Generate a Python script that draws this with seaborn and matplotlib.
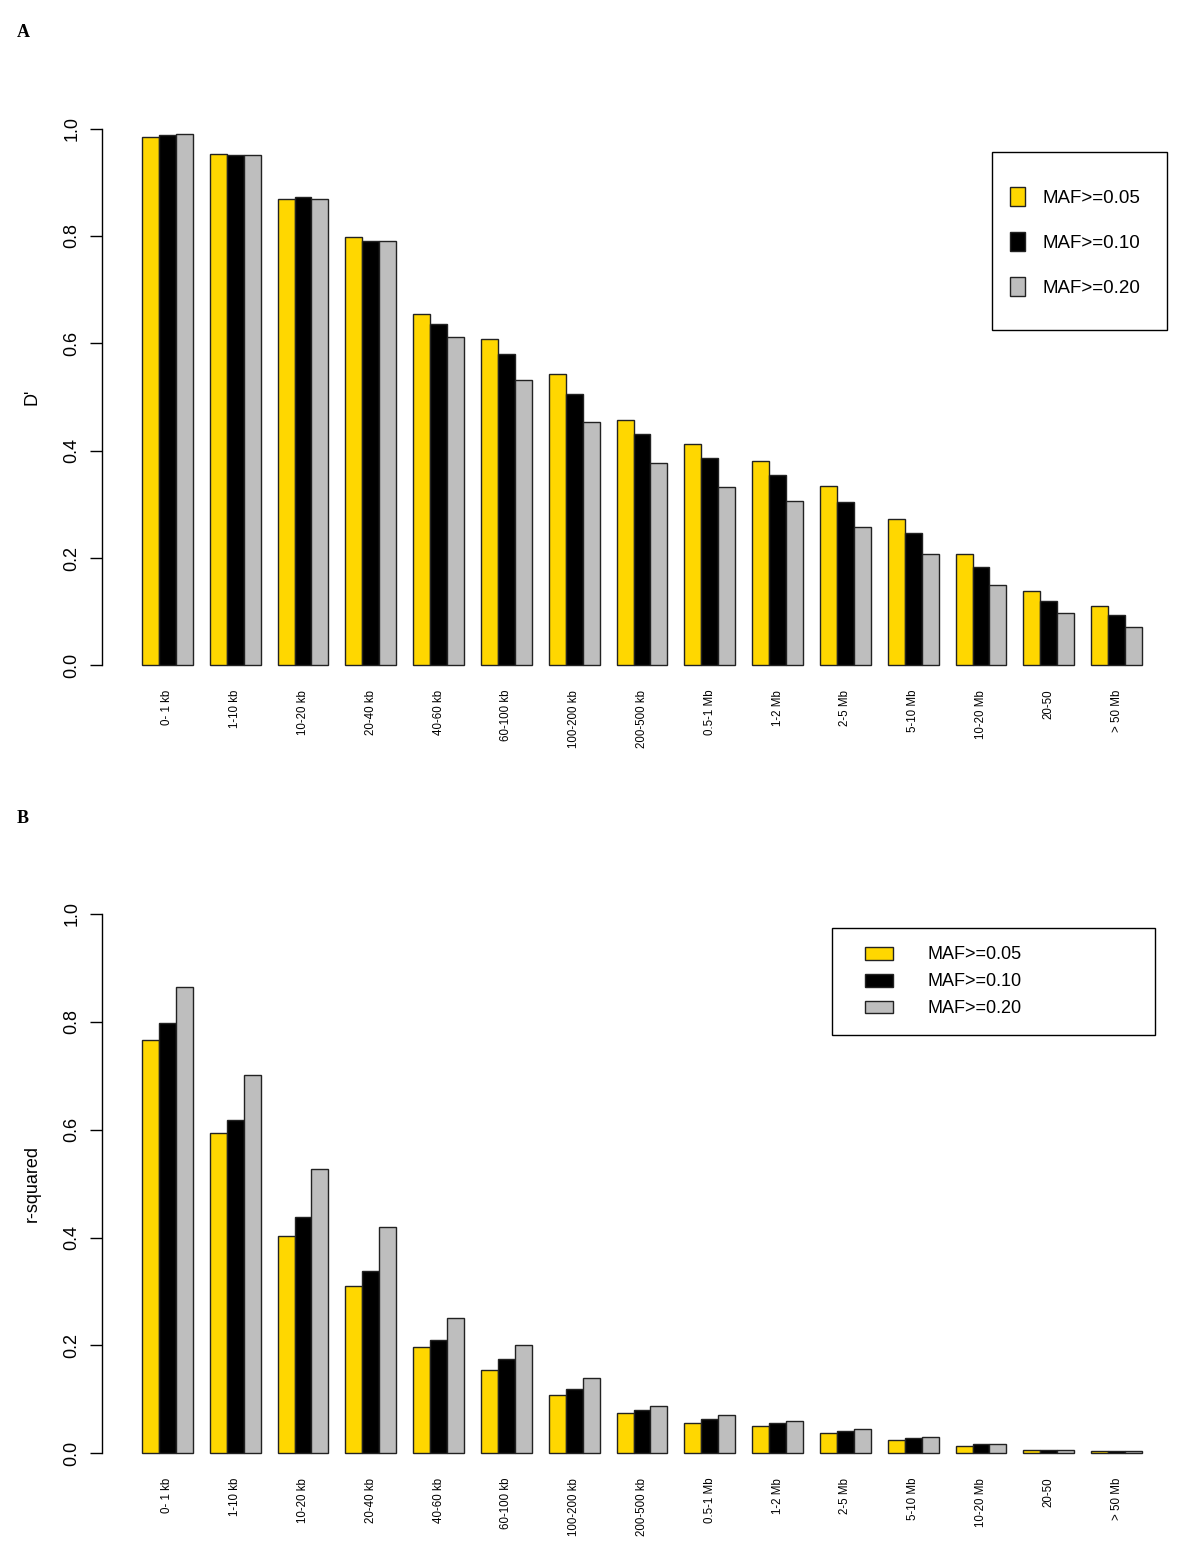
import pandas as pd
import seaborn as sns
import matplotlib.pyplot as plt
from matplotlib.patches import Rectangle

# distance bins (x axis)
categories = ['0- 1 kb', '1-10 kb', '10-20 kb', '20-40 kb', '40-60 kb', '60-100 kb',
              '100-200 kb', '200-500 kb', '0.5-1 Mb', '1-2 Mb', '2-5 Mb', '5-10 Mb',
              '10-20 Mb', '20-50', '> 50 Mb']
maf_labels = ['MAF>=0.05', 'MAF>=0.10', 'MAF>=0.20']

# panel A: D'
dprime_05 = [0.985, 0.952, 0.868, 0.798, 0.655, 0.608, 0.542, 0.458, 0.412, 0.381, 0.335, 0.273, 0.208, 0.139, 0.110]
dprime_10 = [0.988, 0.950, 0.873, 0.791, 0.636, 0.580, 0.505, 0.432, 0.386, 0.355, 0.305, 0.247, 0.183, 0.120, 0.093]
dprime_20 = [0.990, 0.950, 0.868, 0.791, 0.612, 0.531, 0.454, 0.377, 0.332, 0.307, 0.258, 0.208, 0.150, 0.097, 0.072]

# panel B: r-squared
rsq_05 = [0.766, 0.593, 0.403, 0.310, 0.197, 0.154, 0.108, 0.075, 0.057, 0.051, 0.038, 0.025, 0.014, 0.007, 0.005]
rsq_10 = [0.797, 0.618, 0.439, 0.338, 0.211, 0.174, 0.119, 0.080, 0.063, 0.056, 0.041, 0.028, 0.017, 0.007, 0.004]
rsq_20 = [0.865, 0.701, 0.527, 0.420, 0.250, 0.200, 0.140, 0.088, 0.071, 0.060, 0.045, 0.030, 0.017, 0.007, 0.005]

yticks = [0.0, 0.2, 0.4, 0.6, 0.8, 1.0]
colors = ['#FFD700', '#000000', '#BEBEBE']

sns.set_style('white')
plt.rcParams['font.family'] = ['Liberation Sans', 'DejaVu Sans']
plt.rcParams['text.color'] = 'black'
plt.rcParams['axes.labelcolor'] = 'black'
plt.rcParams['xtick.color'] = 'black'
plt.rcParams['ytick.color'] = 'black'


def long_frame(series):
    rows = []
    for lab, vals in zip(maf_labels, series):
        for cat, v in zip(categories, vals):
            rows.append({'dist': cat, 'value': v, 'maf': lab})
    return pd.DataFrame(rows)


def draw_panel(ax, df, ylabel):
    sns.barplot(data=df, x='dist', y='value', hue='maf', order=categories,
                hue_order=maf_labels, palette=dict(zip(maf_labels, colors)),
                width=0.75, gap=0, errorbar=None, edgecolor='#222222',
                linewidth=1, saturation=1, ax=ax)
    ax.set_xlim(-0.965, 14.965)
    ax.set_ylim(-0.04, 1.04)
    for s in ['top', 'right', 'bottom']:
        ax.spines[s].set_visible(False)
    ax.spines['left'].set_bounds(0, 1)
    ax.spines['left'].set_linewidth(1)
    ax.spines['left'].set_color('black')
    ax.set_yticks(yticks)
    ax.set_yticklabels(['%.1f' % t for t in yticks], rotation=90, va='center')
    ax.tick_params(axis='y', left=True, length=8.6, width=1, pad=7, labelsize=13)
    ax.tick_params(axis='x', length=0, pad=2, labelsize=8.3, labelrotation=90)
    ax.set_xlabel('')
    ax.set_ylabel(ylabel, fontsize=13)
    ax.yaxis.set_label_coords(-0.057, 0.5)
    handles, labels = ax.get_legend_handles_labels()
    ax.get_legend().remove()
    return handles, labels


fig = plt.figure(figsize=(12, 15.6), dpi=100)
W, H = 1200.0, 1560.0

axA = fig.add_axes([0.085, 0.5597, 0.9, 0.3716])
hA, lA = draw_panel(axA, long_frame([dprime_05, dprime_10, dprime_20]), "D'")

axB = fig.add_axes([0.085, 0.05455, 0.9, 0.3734])
hB, lB = draw_panel(axB, long_frame([rsq_05, rsq_10, rsq_20]), 'r-squared')

# legends (frames drawn separately, R style)
fig.legend(hA, lA, loc='upper left', bbox_to_anchor=(1010 / W, 1 - 187 / H),
           bbox_transform=fig.transFigure, frameon=False, borderpad=0,
           borderaxespad=0, fontsize=13.5, handlelength=0.8, handleheight=1.17,
           handletextpad=0.96, labelspacing=1.35)
fig.add_artist(Rectangle((992 / W, 1 - 330 / H), 175 / W, 178 / H, fill=False,
                         lw=1, edgecolor='black', transform=fig.transFigure))

fig.legend(hB, lB, loc='upper left', bbox_to_anchor=(865 / W, 1 - 946.5 / H),
           bbox_transform=fig.transFigure, frameon=False, borderpad=0,
           borderaxespad=0, fontsize=13, handlelength=1.55, handleheight=0.72,
           handletextpad=1.9, labelspacing=0.55)
fig.add_artist(Rectangle((832 / W, 1 - 1035 / H), 323 / W, 107 / H, fill=False,
                         lw=1, edgecolor='black', transform=fig.transFigure))

# panel letters
fig.text(17 / W, 1 - 37 / H, 'A', fontfamily='Liberation Serif', fontweight='bold',
         fontsize=13, ha='left', va='baseline')
fig.text(17 / W, 1 - 823 / H, 'B', fontfamily='Liberation Serif', fontweight='bold',
         fontsize=13, ha='left', va='baseline')

fig.savefig('out.png', dpi=100)
